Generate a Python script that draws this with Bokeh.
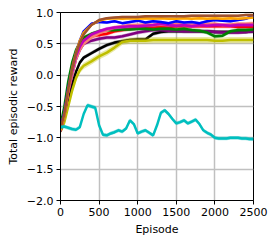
from bokeh.plotting import figure
from bokeh.models import Range1d, FixedTicker
from bokeh.embed import file_html
from bokeh.resources import INLINE

episodes = [0, 50, 100, 150, 200, 250, 300, 400, 500, 600, 700, 800, 900, 1000, 1100,
            1200, 1300, 1400, 1500, 1600, 1700, 1800, 1900, 2000, 2100, 2200, 2300, 2400, 2500]

black = [-0.88, -0.7, -0.4, -0.15, 0.05, 0.2, 0.28, 0.35, 0.42, 0.48, 0.52, 0.54, 0.56, 0.57, 0.57,
         0.66, 0.69, 0.7, 0.7, 0.7, 0.7, 0.7, 0.7, 0.69, 0.69, 0.69, 0.69, 0.69, 0.7]
yellow = [-0.9, -0.75, -0.5, -0.25, -0.05, 0.08, 0.15, 0.22, 0.3, 0.36, 0.44, 0.53, 0.55, 0.55, 0.55,
          0.56, 0.56, 0.56, 0.56, 0.56, 0.56, 0.56, 0.56, 0.55, 0.55, 0.56, 0.56, 0.56, 0.56]
purple = [-0.9, -0.65, -0.3, 0.0, 0.25, 0.4, 0.5, 0.55, 0.58, 0.6, 0.6, 0.62, 0.65, 0.68, 0.7,
          0.72, 0.72, 0.71, 0.71, 0.7, 0.7, 0.7, 0.7, 0.69, 0.68, 0.68, 0.68, 0.69, 0.7]
red = [-0.85, -0.6, -0.25, 0.05, 0.3, 0.45, 0.55, 0.62, 0.64, 0.66, 0.7, 0.72, 0.74, 0.75, 0.76,
       0.76, 0.77, 0.77, 0.78, 0.78, 0.78, 0.78, 0.78, 0.78, 0.78, 0.78, 0.77, 0.77, 0.77]
green = [-0.8, -0.5, -0.1, 0.2, 0.4, 0.52, 0.6, 0.66, 0.7, 0.72, 0.72, 0.73, 0.73, 0.74, 0.74,
         0.73, 0.74, 0.74, 0.73, 0.74, 0.72, 0.71, 0.68, 0.62, 0.63, 0.7, 0.72, 0.72, 0.73]
salmon = [-0.85, -0.6, -0.25, 0.0, 0.25, 0.4, 0.5, 0.6, 0.67, 0.72, 0.76, 0.78, 0.8, 0.8, 0.81,
          0.8, 0.81, 0.8, 0.82, 0.8, 0.81, 0.8, 0.82, 0.82, 0.8, 0.81, 0.82, 0.82, 0.83]
magenta = [-0.88, -0.62, -0.25, 0.05, 0.3, 0.45, 0.55, 0.65, 0.7, 0.74, 0.76, 0.77, 0.78, 0.78, 0.79,
           0.8, 0.82, 0.8, 0.79, 0.8, 0.78, 0.8, 0.79, 0.8, 0.8, 0.79, 0.8, 0.8, 0.8]
blue = [-0.85, -0.6, -0.2, 0.1, 0.35, 0.55, 0.7, 0.82, 0.85, 0.84, 0.86, 0.83, 0.85, 0.87, 0.84,
        0.86, 0.85, 0.83, 0.86, 0.84, 0.85, 0.83, 0.86, 0.88, 0.87, 0.86, 0.88, 0.9, 0.95]
orange = [-0.88, -0.65, -0.25, 0.1, 0.35, 0.55, 0.68, 0.8, 0.87, 0.9, 0.91, 0.9, 0.91, 0.9, 0.91,
          0.9, 0.91, 0.9, 0.9, 0.91, 0.9, 0.91, 0.9, 0.91, 0.9, 0.91, 0.9, 0.91, 0.92]
brown = [-0.85, -0.62, -0.22, 0.1, 0.35, 0.52, 0.65, 0.8, 0.88, 0.91, 0.92, 0.93, 0.93, 0.93, 0.94,
         0.94, 0.94, 0.94, 0.94, 0.94, 0.95, 0.95, 0.95, 0.95, 0.95, 0.95, 0.95, 0.96, 0.96]

cyan_episodes = list(range(0, 2550, 50))
cyan = [-0.83, -0.82, -0.84, -0.86, -0.87, -0.83, -0.62, -0.48, -0.5, -0.52, -0.8, -0.95, -0.96,
        -0.93, -0.91, -0.88, -0.9, -0.85, -0.72, -0.78, -0.93, -0.9, -0.88, -0.92, -0.96, -0.8,
        -0.6, -0.56, -0.62, -0.7, -0.77, -0.75, -0.72, -0.77, -0.74, -0.71, -0.78, -0.88, -0.92,
        -0.95, -1.0, -1.01, -1.01, -1.01, -1.0, -1.0, -1.0, -1.01, -1.01, -1.02, -1.02]

series = [
    (black, "#000000", 0.03),
    (yellow, "#bfbf00", 0.05),
    (purple, "#800080", 0.03),
    (red, "#ff0000", 0.03),
    (green, "#008000", 0.03),
    (salmon, "#fa8072", 0.03),
    (magenta, "#bf00bf", 0.03),
    (blue, "#0000ff", 0.02),
    (orange, "#ffa500", 0.02),
    (brown, "#a0522d", 0.02),
]

y_ticks = [-2.0, -1.5, -1.0, -0.5, 0.0, 0.5, 1.0]
y_tick_labels = ["\u22122.0", "\u22121.5", "\u22121.0", "\u22120.5", "0.0", "0.5", "1.0"]
x_ticks = [0, 500, 1000, 1500, 2000, 2500]

p = figure(width=275, height=243, output_backend="svg", toolbar_location=None,
           x_range=Range1d(0, 2500), y_range=Range1d(-2, 1),
           min_border_left=60, min_border_right=22, min_border_top=12, min_border_bottom=43)

p.background_fill_color = "white"
p.border_fill_color = "white"
p.outline_line_color = "black"
p.outline_line_width = 1

for vals, col, hw in series:
    p.varea(x=episodes, y1=[v - hw for v in vals], y2=[v + hw for v in vals],
            fill_color=col, fill_alpha=0.35)
    p.line(episodes, vals, line_color=col, line_width=2.5)

p.varea(x=cyan_episodes, y1=[v - 0.03 for v in cyan], y2=[v + 0.03 for v in cyan],
        fill_color="#00bfbf", fill_alpha=0.4)
p.line(cyan_episodes, cyan, line_color="#00bfbf", line_width=2.5)

p.xaxis.ticker = FixedTicker(ticks=x_ticks)
p.yaxis.ticker = FixedTicker(ticks=y_ticks)
p.yaxis.major_label_overrides = {t: l for t, l in zip(y_ticks, y_tick_labels)}
p.xaxis.axis_label = "Episode"
p.yaxis.axis_label = "Total episodic reward"

for ax in (p.xaxis[0], p.yaxis[0]):
    ax.axis_line_color = "black"
    ax.major_tick_line_color = "black"
    ax.major_tick_out = 4
    ax.major_tick_in = 0
    ax.minor_tick_line_color = None
    ax.major_label_text_font = "DejaVu Sans"
    ax.major_label_text_font_size = "11px"
    ax.major_label_text_color = "black"
    ax.axis_label_text_font = "DejaVu Sans"
    ax.axis_label_text_font_size = "11px"
    ax.axis_label_text_font_style = "normal"
    ax.axis_label_text_color = "black"
    ax.axis_label_standoff = 4
    ax.major_label_standoff = 3

p.xgrid.grid_line_color = "#c0c0c0"
p.ygrid.grid_line_color = "#c0c0c0"
p.xgrid.grid_line_width = 1.5
p.ygrid.grid_line_width = 1.5

open("out.html", "w").write(file_html(p, INLINE))
